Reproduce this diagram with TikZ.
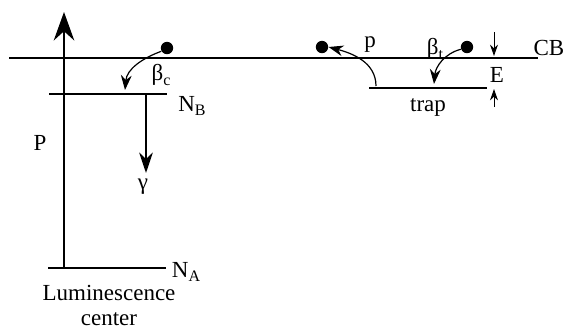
\documentclass[tikz,border=0pt]{standalone}
\usepackage{fontspec}
\setmainfont{Liberation Serif}
\usetikzlibrary{arrows.meta,positioning}
\newcommand{\lowsub}[1]{\raisebox{-0.45ex}{\footnotesize #1}}

\begin{document}
\begin{tikzpicture}[
  x=0.5pt, y=-0.5pt,
  font=\fontsize{11.5}{12.5}\selectfont,
  band/.style={line width=0.75pt},
  level/.style={line width=1.25pt},
  electron/.style={circle, fill=black, inner sep=0pt, minimum size=6.2pt},
  hop/.style={-{Stealth[length=2.6mm, width=1.9mm]}, line width=0.6pt},
  bigflow/.style={-{Stealth[length=5mm, width=3.6mm]}, line width=1.2pt},
  emit/.style={-{Stealth[length=3.6mm, width=2.4mm]}, line width=1.2pt},
  gap/.style={-{Stealth[length=2mm, width=1.4mm]}, line width=0.5pt},
  lbl/.style={inner sep=1pt},
]
  \useasboundingbox (0,0) rectangle (564,328);

  % conduction band
  \coordinate (cbl) at (9,58);
  \coordinate (cbr) at (538,58);
  \draw[band] (cbl) -- (cbr);
  \node[lbl] (cb) at (549,48) {CB};

  % luminescence center levels
  \coordinate (nbl) at (49,94);
  \coordinate (nbr) at (167,94);
  \coordinate (nal) at (48,268);
  \coordinate (nar) at (166,268);
  \draw[level] (nbl) -- (nbr);
  \draw[level] (nal) -- (nar);
  \node[lbl] (nb) at (192,106) {N\lowsub{B}};
  \node[lbl] (na) at (186,272) {N\lowsub{A}};
  \node[lbl, align=center] (lumc) at (109,305) {Luminescence\\center};

  % excitation P
  \coordinate (pbot) at (64,268);
  \coordinate (ptop) at (64,12);
  \draw[bigflow] (pbot) -- (ptop);
  \node[lbl] (plbl) at (40,143) {P};

  % emission
  \coordinate (gtop) at (146,94);
  \coordinate (gbot) at (146,173);
  \draw[emit] (gtop) -- (gbot);
  \node[lbl] (gam) at (143,187) {γ};

  % capture into the center
  \node[electron] (ec) at (167,48) {};
  \coordinate (ecend) at (125,90);
  \draw[hop] (ec.210) to[out=200, in=85] (ecend);
  \node[lbl] (betac) at (161,75) {β\lowsub{c}};

  % trap
  \coordinate (trl) at (369,88);
  \coordinate (trr) at (487,88);
  \draw[level] (trl) -- (trr);
  \node[lbl] (trap) at (428,107) {trap};

  % release from the trap
  \node[electron] (ep) at (322,47) {};
  \coordinate (pstart) at (376,86);
  \draw[hop] (pstart) to[out=90, in=-15] (ep.east);
  \node[lbl] (plab) at (370,45) {p};

  % capture into the trap
  \node[electron] (et) at (467,47) {};
  \coordinate (etend) at (434,84);
  \draw[hop] (et.200) to[out=195, in=85] (etend);
  \node[lbl] (betat) at (435,49) {β\lowsub{t}};

  % trap depth
  \coordinate (etop) at (494,32);
  \coordinate (ecb) at (494,56);
  \coordinate (elow) at (494,107);
  \coordinate (etr) at (494,89);
  \draw[gap] (etop) -- (ecb);
  \draw[gap] (elow) -- (etr);
  \node[lbl] (elbl) at (497,75) {E};
\end{tikzpicture}
\end{document}
